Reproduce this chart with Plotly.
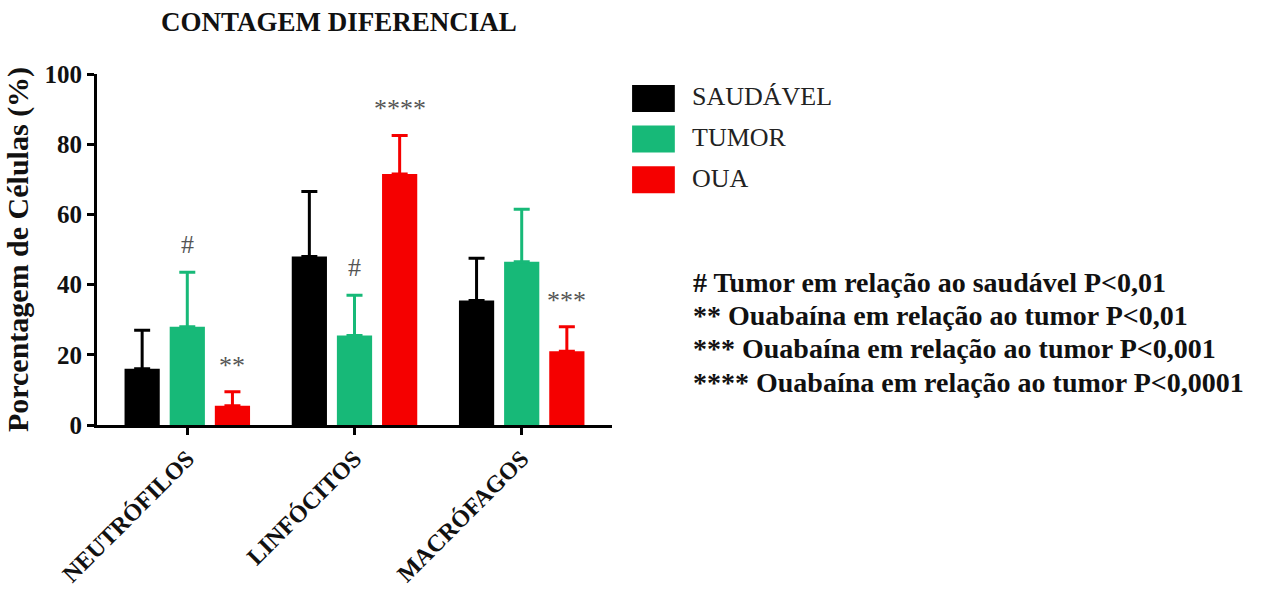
import plotly.graph_objects as go

# Differential cell count (%), mean and upper SD per group
categories = ["NEUTRÓFILOS", "LINFÓCITOS", "MACRÓFAGOS"]
groups = ["SAUDÁVEL", "TUMOR", "OUA"]
saudavel_mean = [16.0, 48.0, 35.5]
saudavel_sd = [11.0, 18.5, 12.0]
tumor_mean = [28.0, 25.5, 46.5]
tumor_sd = [15.5, 11.5, 15.0]
oua_mean = [5.5, 71.5, 21.0]
oua_sd = [4.0, 11.0, 7.0]

colors = ["#000000", "#17b978", "#f50000"]
means = [saudavel_mean, tumor_mean, oua_mean]
sds = [saudavel_sd, tumor_sd, oua_sd]

# significance marks: (category index, group index, label)
sig_marks = [(0, 1, "#"), (0, 2, "**"), (1, 1, "#"), (1, 2, "****"), (2, 2, "***")]

notes = [
    "# Tumor em relação ao saudável P<0,01",
    "** Ouabaína em relação ao tumor P<0,01",
    "*** Ouabaína em relação ao tumor P<0,001",
    "**** Ouabaína em relação ao tumor P<0,0001",
]

SERIF = "Liberation Serif, Times New Roman, serif"

fig = go.Figure()
for name, m, s, c in zip(groups, means, sds, colors):
    fig.add_trace(go.Bar(
        name=name, x=categories, y=m, marker=dict(color=c, line=dict(width=0)),
        error_y=dict(type="data", symmetric=False, array=s, arrayminus=[0] * len(s),
                     color=c, thickness=3, width=8),
        showlegend=False,
    ))

BARGAP, GROUPGAP = 0.19, 0.22
slot = (1 - BARGAP) / len(groups)

for ci, gi, label in sig_marks:
    top = means[gi][ci] + sds[gi][ci]
    star = label.startswith("*")
    fig.add_annotation(
        x=ci + (gi - 1) * slot, y=top, xref="x", yref="y",
        text=label, showarrow=False, yanchor="bottom",
        yshift=10 if star else 11,
        font=dict(family=SERIF, size=26, color="#555555"),
    )

# legend swatches and labels
for i, (name, c) in enumerate(zip(groups, colors)):
    y0 = 0.892 - i * 0.116
    fig.add_shape(type="rect", xref="paper", yref="paper",
                  x0=1.039, x1=1.122, y0=y0, y1=y0 + 0.077,
                  fillcolor=c, line=dict(width=0))
    fig.add_annotation(xref="paper", yref="paper", x=1.151, y=y0 + 0.043,
                       text=name, showarrow=False, xanchor="left", yanchor="middle",
                       font=dict(family=SERIF, size=26, color="#222222"))

for i, line in enumerate(notes):
    fig.add_annotation(xref="paper", yref="paper", x=1.153, y=0.407 - i * 0.095,
                       text="<b>" + line + "</b>", showarrow=False,
                       xanchor="left", yanchor="middle",
                       font=dict(family=SERIF, size=28, color="#111111"))

fig.update_layout(
    width=1269, height=592,
    margin=dict(l=97, r=657, t=74, b=167),
    paper_bgcolor="white", plot_bgcolor="white",
    barmode="group", bargap=BARGAP, bargroupgap=GROUPGAP,
    title=dict(text="<b>CONTAGEM DIFERENCIAL</b>", x=339 / 1269, xanchor="center",
               y=1 - 22 / 592, yanchor="middle",
               font=dict(family=SERIF, size=27, color="#111111")),
    xaxis=dict(range=[-0.54, 2.54], showline=True, linecolor="#000000", linewidth=3,
               ticks="outside", ticklen=7, tickwidth=2.5, tickcolor="#000000",
               tickangle=-45, showgrid=False, zeroline=False, automargin=False,
               tickfont=dict(family=SERIF, size=24, color="#111111", weight="bold")),
    yaxis=dict(range=[0, 100], tickvals=[0, 20, 40, 60, 80, 100],
               showline=True, linecolor="#000000", linewidth=3,
               ticks="outside", ticklen=7, tickwidth=2.5, tickcolor="#000000",
               showgrid=False, zeroline=False, automargin=False,
               tickfont=dict(family=SERIF, size=25, color="#111111", weight="bold"),
               title=dict(text="<b>Porcentagem de Células (%)</b>", standoff=8,
                          font=dict(family=SERIF, size=30, color="#111111"))),
)

fig.write_html("out.html")
